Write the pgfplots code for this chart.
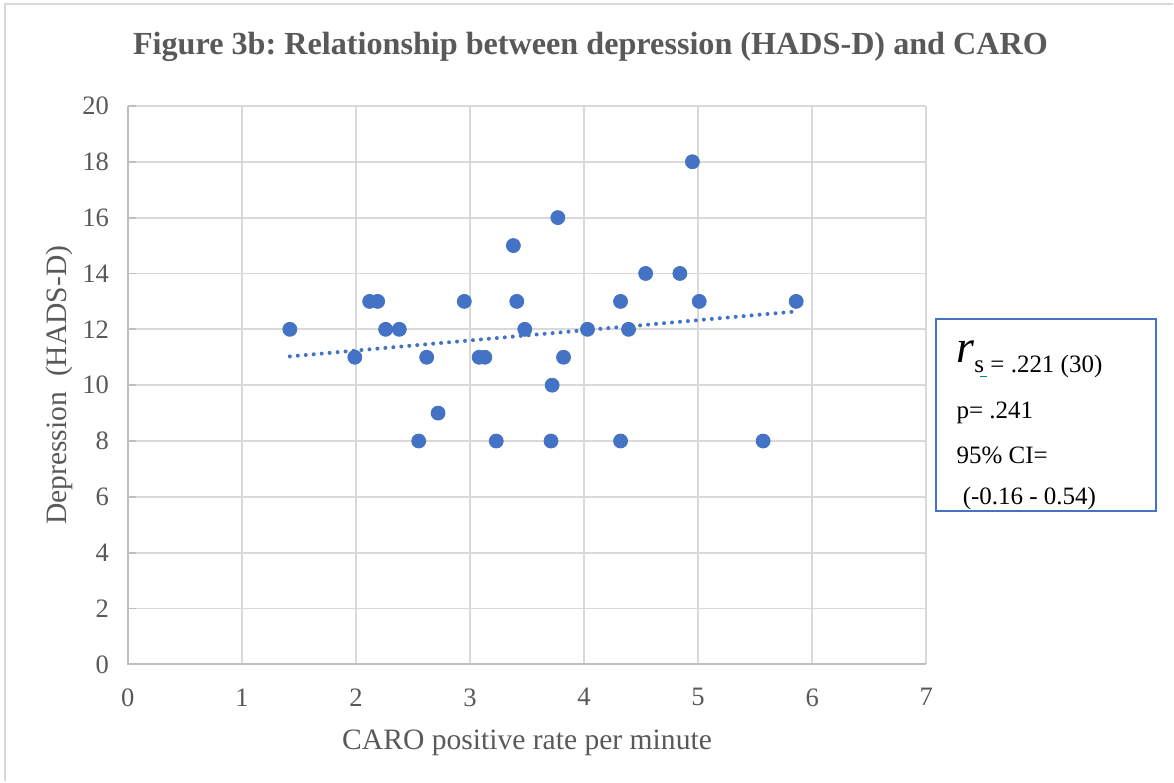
\documentclass[border=0pt]{standalone}
\usepackage{pgfplots}
\pgfplotsset{compat=1.18}
\usepackage{fontspec}
\setmainfont{Liberation Serif}
\frenchspacing
\definecolor{dotblue}{HTML}{4472C4}
\definecolor{gridgray}{HTML}{D9D9D9}
\definecolor{axisgray}{HTML}{BFBFBF}
\definecolor{txtgray}{HTML}{595959}
\definecolor{teal2}{HTML}{00868B}

\begin{document}
\begin{tikzpicture}
\begin{axis}[
  at={(0,0)}, anchor=south west,
  scale only axis,
  width=399.5pt, height=279.5pt,
  xmin=0, xmax=7, ymin=0, ymax=20,
  xtick={0,1,...,7}, ytick={0,2,...,20},
  grid=major,
  major grid style={gridgray, line width=0.9pt},
  axis line style={draw=none},
  axis x line*=bottom, axis y line*=left,
  tick style={axisgray, line width=0.9pt},
  major tick length=4pt,
  xtick style={draw=none},
  ytick style={axisgray},
  y tick label style={xshift=-6pt},
  x tick label style={yshift=-8.5pt},
  tick label style={font=\fontsize{13.3}{16}\selectfont, text=txtgray},
  /pgf/number format/assume math mode=true,
  xlabel={CARO positive rate per minute},
  ylabel={Depression\ \ (HADS-D)},
  label style={font=\fontsize{14.8}{17}\selectfont, text=txtgray},
  xlabel style={yshift=-5pt},
  ylabel style={yshift=-2pt},
  clip=false,
]
% axis lines on the left and bottom
\draw[axisgray, line width=1pt] (axis cs:0,20) -- (axis cs:0,0) -- (axis cs:7,0);

% linear trendline
\addplot[dotblue, line width=2pt, line cap=round, dash pattern=on 0pt off 4pt]
  coordinates {(1.42,11.03) (5.86,12.64)};

% observations
\addplot[only marks, mark=*, mark size=3.5pt,
  mark options={fill=dotblue, draw=dotblue}]
  table {
x y
1.42 12
1.99 11
2.12 13
2.19 13
2.26 12
2.38 12
2.55 8
2.62 11
2.72 9
2.95 13
3.08 11
3.13 11
3.23 8
3.38 15
3.41 13
3.48 12
3.72 10
3.71 8
3.77 16
3.82 11
4.03 12
4.32 8
4.32 13
4.39 12
4.54 14
4.84 14
4.95 18
5.01 13
5.57 8
5.86 13
};
\end{axis}

% chart title
\node[font=\fontsize{16.1}{19}\selectfont\bfseries, text=txtgray] at (231.5pt,309pt)
  {Figure 3b: Relationship between depression (HADS-D) and CARO};

% statistics box
\draw[dotblue, line width=1pt] (404.5pt,77pt) rectangle (514.5pt,173pt);
\node[anchor=base west, inner sep=0pt, font=\fontsize{12.5}{14}\selectfont] at (414.5pt,146pt)
  {\raisebox{5pt}{\fontsize{23}{23}\selectfont\itshape r}s\ = .221 (30)};
\draw[teal2, line width=0.6pt] (426.5pt,144pt) -- (430pt,144pt);
\node[anchor=base west, inner sep=0pt, font=\fontsize{12.5}{14}\selectfont] at (414.5pt,123pt)
  {p= .241};
\node[anchor=base west, inner sep=0pt, font=\fontsize{12.5}{14}\selectfont] at (414.5pt,100.5pt)
  {95\% CI=};
\node[anchor=base west, inner sep=0pt, font=\fontsize{12.5}{14}\selectfont] at (414.5pt,80pt)
  {\ (-0.16 - 0.54)};

% chart area border
\draw[gridgray, line width=1pt] (-61.5pt,-58.5pt) -- (-61.5pt,330.5pt) -- (523pt,330.5pt);
\useasboundingbox (-64pt,-58.5pt) rectangle (523pt,332.5pt);
\end{tikzpicture}
\end{document}
